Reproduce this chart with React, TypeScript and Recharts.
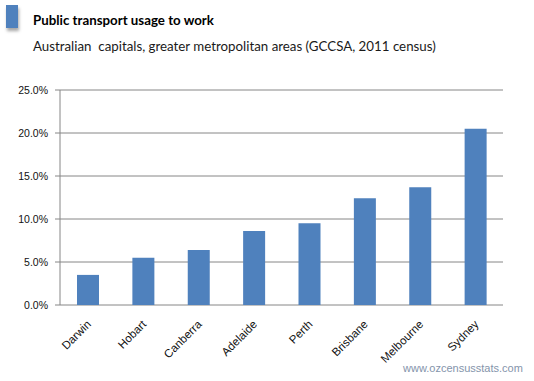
import { BarChart, Bar, XAxis, YAxis, CartesianGrid } from 'recharts';

const cities = ['Darwin', 'Hobart', 'Canberra', 'Adelaide', 'Perth', 'Brisbane', 'Melbourne', 'Sydney'];
const usage = [3.5, 5.5, 6.4, 8.6, 9.5, 12.4, 13.7, 20.5];
const yTicks = [0, 5, 10, 15, 20, 25];
const edgeTicks = [0, 1, 2, 3, 4, 5, 6, 7, 8];

const data = cities.map((name, i) => ({ name, usage: usage[i] }));

const axisGrey = '#868686';
const barBlue = '#4f81bd';

function CityTick({ x, y, payload }: any) {
  return (
    <text
      x={x + 4}
      y={y + 12}
      textAnchor="end"
      transform={`rotate(-45, ${x + 4}, ${y + 12})`}
      fontSize={11.5}
      fontFamily="'Liberation Sans', Arial, sans-serif"
      fill="#111"
    >
      {payload.value}
    </text>
  );
}

export default function App() {
  return (
    <div style={{ position: 'absolute', left: 0, top: 0, width: 534, height: 381, background: '#fff' }}>
      <div
        style={{
          position: 'absolute',
          left: 6,
          top: 5,
          width: 12,
          height: 23,
          background: barBlue,
          boxShadow: '1px 3px 3px rgba(0,0,0,0.35)',
        }}
      />
      <div
        style={{
          position: 'absolute',
          left: 33,
          top: 12,
          fontFamily: 'Lato, sans-serif',
          fontWeight: 700,
          fontSize: 13.3,
          color: '#000',
          whiteSpace: 'nowrap',
        }}
      >
        Public transport usage to work
      </div>
      <div
        style={{
          position: 'absolute',
          left: 33,
          top: 38,
          fontFamily: 'Lato, sans-serif',
          fontSize: 13.3,
          color: '#1a1a1a',
          whiteSpace: 'pre',
        }}
      >
        Australian  capitals, greater metropolitan areas (GCCSA, 2011 census)
      </div>
      <BarChart
        width={534}
        height={381}
        data={data}
        margin={{ top: 90, right: 31, bottom: 0, left: 0 }}
        style={{ position: 'absolute', left: 0, top: 0 }}
      >
        <CartesianGrid vertical={false} stroke={axisGrey} strokeWidth={1} />
        <XAxis
          xAxisId="edges"
          type="number"
          domain={[0, 8]}
          ticks={edgeTicks}
          height={0}
          tick={false}
          tickSize={5}
          tickLine={{ stroke: axisGrey }}
          axisLine={{ stroke: axisGrey }}
        />
        <XAxis
          dataKey="name"
          height={76}
          interval={0}
          tickLine={false}
          axisLine={false}
          tick={<CityTick />}
        />
        <YAxis
          width={60}
          domain={[0, 25]}
          ticks={yTicks}
          tickFormatter={(v) => `${Number(v).toFixed(1)}%`}
          tickSize={5}
          tickMargin={7}
          tickLine={{ stroke: axisGrey }}
          axisLine={{ stroke: axisGrey }}
          tick={{ fontSize: 10.5, fill: '#111', fontFamily: "'Liberation Sans', Arial, sans-serif" }}
        />
        <Bar dataKey="usage" fill={barBlue} isAnimationActive={false} barSize={22} />
      </BarChart>
      <div
        style={{
          position: 'absolute',
          left: 403,
          top: 362,
          fontFamily: "'Liberation Sans', Arial, sans-serif",
          fontSize: 11,
          color: '#8494ab',
          whiteSpace: 'nowrap',
        }}
      >
        www.ozcensusstats.com
      </div>
    </div>
  );
}
